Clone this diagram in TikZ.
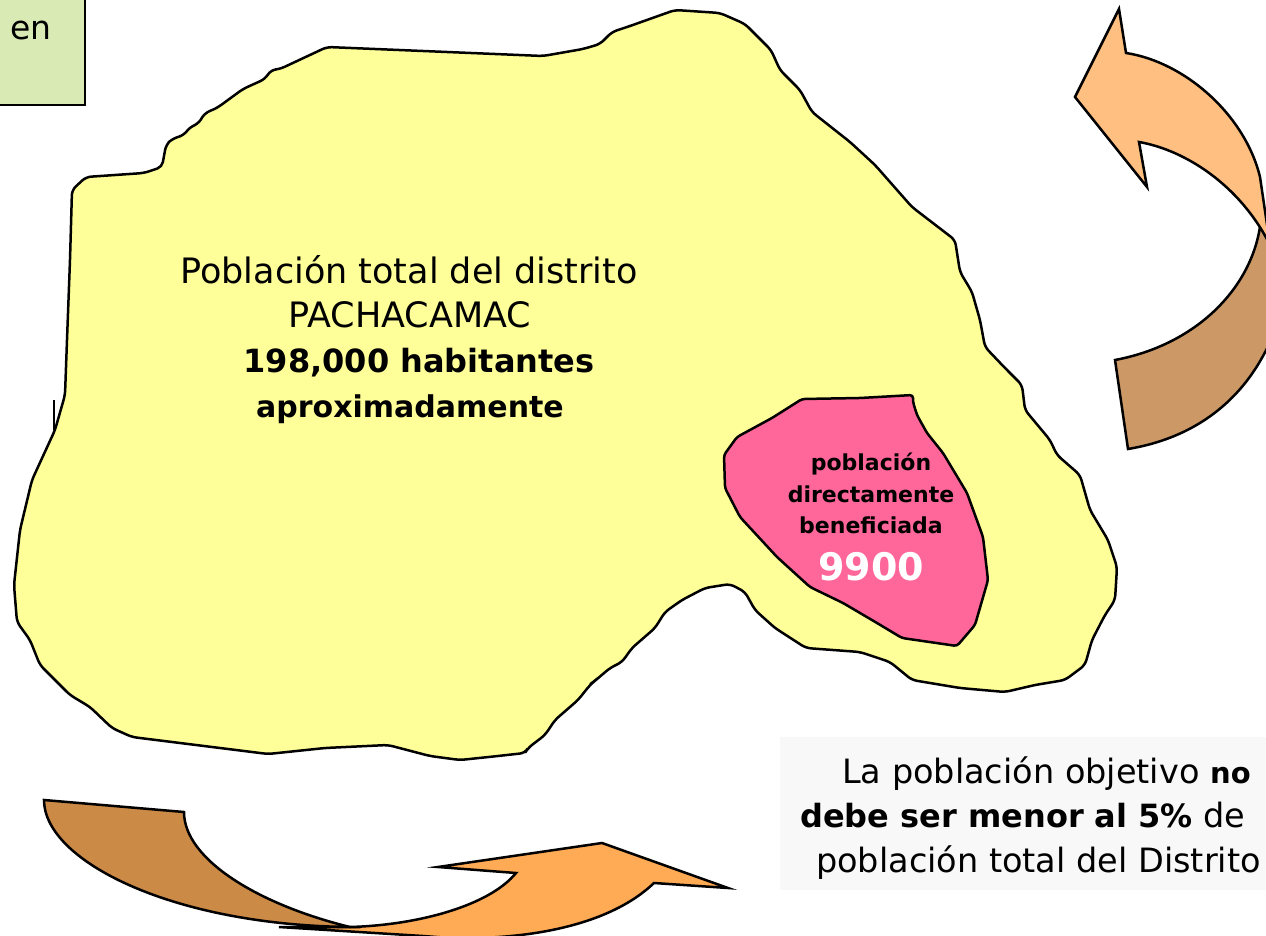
\documentclass[tikz,border=0pt]{standalone}
\usepackage{fontspec}
\setmainfont{DejaVu Sans}
\usepackage{tikz}

\definecolor{zonayellow}{HTML}{FFFF99}
\definecolor{zonapink}{HTML}{FF6699}
\definecolor{boxgreen}{HTML}{D9EAB5}
\definecolor{boxgray}{HTML}{F8F8F8}
\definecolor{arrowlight}{HTML}{FFBF80}
\definecolor{arrowtan}{HTML}{CC9966}
\definecolor{arrowbrown}{HTML}{CC8A47}
\definecolor{arroworange}{HTML}{FFAA55}

\tikzset{
  zone/.style = {draw, line width=2.5pt, line join=round, rounded corners=5pt},
  arrowpart/.style = {draw, line width=2.5pt, line join=miter},
  big/.style = {anchor=base, inner sep=0pt, font=\fontsize{35}{40}\selectfont},
  notetext/.style = {anchor=base west, inner sep=0pt, font=\fontsize{33.5}{40}\selectfont},
  bigbold/.style = {big, font=\fontsize{32}{40}\selectfont\bfseries},
  small/.style = {anchor=base, inner sep=0pt, font=\fontsize{22}{32}\selectfont\bfseries},
}

\begin{document}
\begin{tikzpicture}[x=1pt, y=-1pt]
\useasboundingbox (0,0) rectangle (1266,936);
\clip (0,0) rectangle (1266,936);

% green box, top left
\draw[fill=boxgreen, line width=2.5pt] (-10,-10) rectangle (85,105);
\node[big, anchor=base east, font=\fontsize{33}{40}\selectfont] (en) at (52,40) {en};

% district
\draw[zone, fill=zonayellow] (72,190) -- (86,177) -- (144,173) -- (162,167) -- (166,145) -- (172,139) -- (184,135) -- (190,127) -- (198,124) -- (205,113) -- (217,108) -- (243,89) -- (265,79) -- (271,70) -- (280,69) -- (327,47) -- (543,56) -- (583,49) -- (600,44) -- (612,32) -- (630,26) -- (675,10) -- (720,13) -- (745,24) -- (771,50) -- (780,70) -- (800,90) -- (812,112) -- (850,142) -- (875,165) -- (912,207) -- (955,240) -- (960,272) -- (972,292) -- (980,320) -- (985,347) -- (1005,368) -- (1022,385) -- (1025,410) -- (1050,440) -- (1057,455) -- (1080,475) -- (1090,510) -- (1108,540) -- (1117,567) -- (1115,600) -- (1105,615) -- (1092,640) -- (1085,665) -- (1065,680) -- (1035,685) -- (1005,692) -- (960,688) -- (912,680) -- (890,662) -- (860,652) -- (806,648) -- (775,628) -- (755,610) -- (745,592) -- (730,584) -- (705,588) -- (682,600) -- (665,612) -- (655,628) -- (632,648) -- (622,662) -- (610,668) -- (590,685) -- (578,700) -- (555,720) -- (545,735) -- (528,748) -- (525,753) -- (498,756) -- (460,760) -- (430,756) -- (388,745) -- (325,748) -- (268,754) -- (132,737) -- (112,728) -- (90,707) -- (70,695) -- (40,665) -- (30,640) -- (17,622) -- (14,585) -- (20,530) -- (32,480) -- (55,430) -- (65,395) -- (67,340) -- (70,260) -- cycle;
\draw[line width=2pt] (54,400) -- (54,430);
\draw[line width=2pt] (590,684) -- (598,678);

% beneficiaries
\draw[zone, rounded corners=3pt, fill=zonapink] (913,395) -- (860,398) -- (802,399) -- (772,418) -- (737,437) -- (724,455) -- (725,488) -- (740,517) -- (777,557) -- (810,587) -- (843,603) -- (877,623) -- (902,638) -- (957,646) -- (975,625) -- (988,580) -- (983,537) -- (967,493) -- (943,453) -- (927,433) -- (917,415) -- (913,402) -- cycle;

% right arrow
\draw[arrowpart, fill=arrowtan] (1115,360) .. controls (1195,345) and (1250,290) .. (1260,227) -- (1275,245) -- (1275,330) .. controls (1250,395) and (1200,437) .. (1128,449) -- cycle;
\draw[arrowpart, fill=arrowlight] (1119,9) -- (1126,53) .. controls (1185,62) and (1245,115) .. (1260,177) -- (1270,245) .. controls (1240,185) and (1185,150) .. (1139,142) -- (1147,187) -- (1075,97) -- cycle;

% bottom arrow
\draw[arrowpart, fill=arroworange] (279,927) -- (350,927) .. controls (420,925) and (490,905) .. (516,873) -- (438,867) -- (602,843) -- (728,888) -- (654,883) .. controls (610,925) and (530,940) .. (450,938) -- (423,936) -- cycle;
\draw[arrowpart, fill=arrowbrown] (44,800) -- (184,812) .. controls (184,860) and (260,905) .. (350,927) .. controls (170,925) and (44,860) .. (44,800) -- cycle;

% gray note
\fill[boxgray] (780,737) rectangle (1266,890);
\node[notetext] (note1) at (842,783) {La población objetivo {\fontsize{29}{40}\selectfont\textbf{no}}};
\node[notetext] (note2) at (800,827) {{\fontsize{32}{40}\selectfont\textbf{debe ser menor al 5\%}} de};
\node[notetext] (note3) at (816,872) {población total del Distrito};

% district text
\node[big] (title1) at (409,283) {Población total del distrito};
\node[big] (title2) at (410,327) {PACHACAMAC};
\node[bigbold] (count) at (419,372) {198,000 habitantes};
\node[bigbold, font=\fontsize{30}{40}\selectfont\bfseries] (approx) at (410,417) {aproximadamente};

% text in the pink zone
\node[small] (pob1) at (871,470) {población};
\node[small] (pob2) at (871,502) {directamente};
\node[small] (pob3) at (871,533) {beneficiada};
\node[anchor=base, inner sep=0pt, text=white, font=\fontsize{38}{50}\selectfont\bfseries] (pobnum) at (871,580) {9900};
\end{tikzpicture}
\end{document}
